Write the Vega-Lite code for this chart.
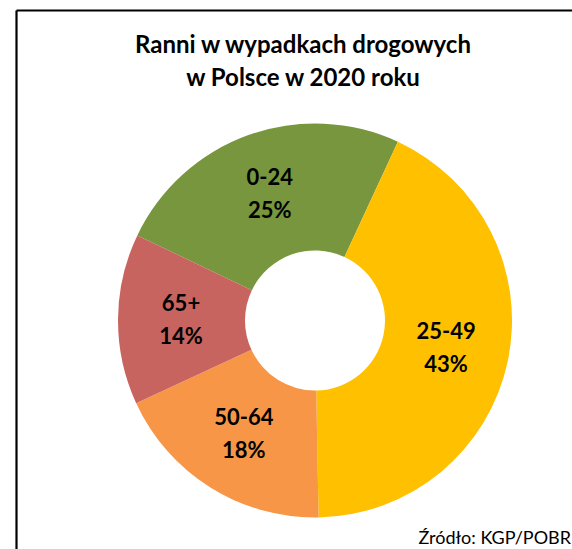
{
  "$schema": "https://vega.github.io/schema/vega-lite/v6.json",
  "width": 556,
  "height": 539,
  "autosize": {"type": "none"},
  "padding": {"left": 16, "top": 10, "right": 0, "bottom": 0},
  "background": "white",
  "config": {"view": {"stroke": null}, "font": "Lato"},
  "title": {
    "text": ["Ranni w wypadkach drogowych", "w Polsce w 2020 roku"],
    "font": "Lato",
    "fontSize": 24,
    "fontWeight": "bold",
    "color": "#000000",
    "lineHeight": 33,
    "anchor": "middle",
    "frame": "group",
    "baseline": "alphabetic",
    "dx": 9,
    "dy": 104
  },
  "datasets": {
    "slices": [
      {"grupa": "0-24", "udzial": 24.8, "etykieta": "25%", "kolej": 1},
      {"grupa": "25-49", "udzial": 42.8, "etykieta": "43%", "kolej": 2},
      {"grupa": "50-64", "udzial": 18.4, "etykieta": "18%", "kolej": 3},
      {"grupa": "65+", "udzial": 14.0, "etykieta": "14%", "kolej": 4}
    ],
    "frame": [{"v": 0}],
    "source": [{"tekst": "Źródło: KGP/POBR"}]
  },
  "layer": [
    {
      "data": {"name": "frame"},
      "mark": {"type": "point", "opacity": 0},
      "encoding": {
        "x": {"field": "v", "type": "quantitative", "scale": {"domain": [0, 1]},
          "axis": {"orient": "top", "labels": false, "ticks": false, "grid": false, "title": null, "domainColor": "#000000", "domainWidth": 2.2}},
        "y": {"field": "v", "type": "quantitative", "scale": {"domain": [0, 1]},
          "axis": {"orient": "left", "labels": false, "ticks": false, "grid": false, "title": null, "domainColor": "#000000", "domainWidth": 2.2}}
      }
    },
    {
      "data": {"name": "slices"},
      "mark": {"type": "arc", "innerRadius": 70, "outerRadius": 197, "x": 299, "y": 310.5},
      "encoding": {
        "theta": {"field": "udzial", "type": "quantitative", "stack": true, "scale": {"range": [-1.124, 5.1592]}},
        "order": {"field": "kolej", "type": "quantitative"},
        "color": {"field": "grupa", "type": "nominal", "legend": null,
          "scale": {"domain": ["0-24", "25-49", "50-64", "65+"], "range": ["#77963D", "#FFC000", "#F79646", "#C8645F"]}}
      }
    },
    {
      "data": {"name": "slices"},
      "transform": [{"calculate": "[datum.grupa, datum.etykieta]", "as": "napis"}],
      "mark": {"type": "text", "radius": 134, "x": 299, "y": 310.5, "font": "Lato", "fontSize": 22, "fontWeight": "bold", "color": "#000000", "lineHeight": 33, "baseline": "middle", "dy": -16},
      "encoding": {
        "theta": {"field": "udzial", "type": "quantitative", "stack": true, "scale": {"range": [-1.124, 5.1592]}},
        "order": {"field": "kolej", "type": "quantitative"},
        "text": {"field": "napis"}
      }
    },
    {
      "data": {"name": "source"},
      "mark": {"type": "text", "x": 555, "y": 534, "align": "right", "baseline": "alphabetic", "font": "Lato", "fontSize": 18, "color": "#000000"},
      "encoding": {"text": {"field": "tekst"}}
    }
  ]
}
